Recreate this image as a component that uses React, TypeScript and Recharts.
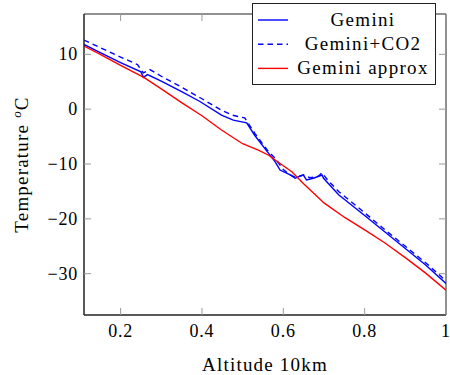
import { LineChart, Line, XAxis, YAxis, Legend, ReferenceArea } from "recharts";

// altitude in units of 10 km, temperature in °C
const geminiAlt = [0.11, 0.15, 0.2, 0.25, 0.256, 0.266, 0.3, 0.35, 0.395, 0.448, 0.477, 0.51, 0.53, 0.56, 0.58, 0.592, 0.617, 0.629, 0.649, 0.657, 0.674, 0.695, 0.699, 0.736, 0.8, 0.85, 0.9, 0.95, 1.0];
const geminiTemp = [11.8, 10.3, 8.5, 6.8, 5.8, 6.3, 5.1, 3.2, 1.4, -1.1, -2.0, -2.5, -4.8, -7.7, -9.6, -11.1, -12.0, -12.6, -12.0, -12.9, -12.6, -12.0, -12.6, -15.6, -19.4, -22.4, -25.4, -28.4, -31.8];

const co2Alt = [0.11, 0.15, 0.2, 0.242, 0.256, 0.272, 0.3, 0.35, 0.4, 0.448, 0.475, 0.505, 0.53, 0.56, 0.58, 0.6, 0.617, 0.63, 0.65, 0.665, 0.687, 0.695, 0.71, 0.736, 0.8, 0.85, 0.9, 0.95, 1.0];
const co2Temp = [12.6, 11.2, 9.5, 8.1, 6.6, 7.2, 6.0, 4.0, 1.9, -0.2, -1.1, -1.6, -4.4, -7.4, -9.0, -11.0, -12.0, -12.4, -12.0, -12.5, -12.2, -11.6, -13.0, -15.0, -18.9, -22.0, -25.0, -28.0, -31.3];

const approxAlt = [0.11, 0.15, 0.2, 0.257, 0.3, 0.35, 0.4, 0.448, 0.5, 0.54, 0.564, 0.592, 0.621, 0.65, 0.7, 0.75, 0.806, 0.85, 0.904, 0.95, 1.0];
const approxTemp = [11.5, 10.0, 8.0, 5.8, 3.7, 1.2, -1.2, -3.8, -6.3, -7.5, -8.4, -9.9, -11.4, -13.6, -17.1, -19.7, -22.3, -24.4, -27.3, -29.9, -33.0];

const xTicks = [0.2, 0.4, 0.6, 0.8, 1];
const yTicks = [-30, -20, -10, 0, 10];
const xDomain = [0.11, 1];
const yDomain = [-37.53, 17.35];

const toPoints = (alt: number[], temp: number[]) => alt.map((a, i) => ({ alt: a, temp: temp[i] }));

const series = [
  { name: "Gemini", data: toPoints(geminiAlt, geminiTemp), color: "#0000ff", dash: undefined as string | undefined },
  { name: "Gemini+CO2", data: toPoints(co2Alt, co2Temp), color: "#0000ff", dash: "5.5 4" },
  { name: "Gemini approx", data: toPoints(approxAlt, approxTemp), color: "#ff0000", dash: undefined },
];

const W = 450;
const H = 375;
const MARGIN = { top: 14, right: 4, bottom: 0, left: 0 };
const FONT = "'Liberation Serif', 'Times New Roman', serif";
const TICK_LEN = 7;
const TICK_COLOR = "#999";
const FRAME = "#222";

const fmt = (v: number) => (v < 0 ? "\u2212" + Math.abs(v) : String(v));

// pgfplots-style ticks: pointing inward on both opposite sides of the box
const BottomTick = ({ x, y, payload }: any) => (
  <g>
    <line x1={x} x2={x} y1={y} y2={y - TICK_LEN} stroke={TICK_COLOR} />
    <line x1={x} x2={x} y1={MARGIN.top} y2={MARGIN.top + TICK_LEN} stroke={TICK_COLOR} />
    <text x={x} y={y + 22} textAnchor="middle" fontFamily={FONT} fontSize={18} letterSpacing={0.8} fill="#000">
      {fmt(payload.value)}
    </text>
  </g>
);

const LeftTick = ({ x, y, payload }: any) => (
  <g>
    <line x1={x} x2={x + TICK_LEN} y1={y} y2={y} stroke={TICK_COLOR} />
    <line x1={W - MARGIN.right} x2={W - MARGIN.right - TICK_LEN} y1={y} y2={y} stroke={TICK_COLOR} />
    <text x={x - 6} y={y + 6} textAnchor="end" fontFamily={FONT} fontSize={18} letterSpacing={0.8} fill="#000">
      {fmt(payload.value)}
    </text>
  </g>
);

const XLabel = ({ viewBox }: any) => {
  const vb = viewBox ?? { x: 84, y: 315, width: 362, height: 60 };
  return (
    <text x={vb.x + vb.width / 2} y={vb.y + 56} textAnchor="middle" fontFamily={FONT} fontSize={19} letterSpacing={1.2} fill="#000">
      Altitude 10km
    </text>
  );
};

const YLabel = ({ viewBox }: any) => {
  const vb = viewBox ?? { x: 0, y: 14, width: 84, height: 301 };
  const cx = vb.x + 28;
  const cy = vb.y + vb.height / 2;
  return (
    <text x={cx} y={cy} transform={`rotate(-90 ${cx} ${cy})`} textAnchor="middle" fontFamily={FONT} fontSize={19} letterSpacing={1.2} fill="#000">
      Temperature{" "}
      <tspan fontStyle="italic" fontSize={13} dy={-7}>o</tspan>
      <tspan dy={7}>C</tspan>
    </text>
  );
};

const LegendBox = () => (
  <div style={{ border: `1px solid ${FRAME}`, background: "#fff", width: 182, height: 80 }}>
    <svg width={182} height={80} style={{ display: "block" }}>
      {series.map((s, i) => (
        <g key={s.name}>
          <line x1={5} x2={35} y1={16 + i * 24.2} y2={16 + i * 24.2} stroke={s.color} strokeWidth={1.4} strokeDasharray={s.dash} />
          <text x={110} y={21.5 + i * 24} textAnchor="middle" fontFamily={FONT} fontSize={19} letterSpacing={1.3} fill="#000">
            {s.name}
          </text>
        </g>
      ))}
    </svg>
  </div>
);

export default function App() {
  return (
    <div style={{ position: "absolute", left: 0, top: 0, background: "#fff" }}>
      <LineChart width={W} height={H} margin={MARGIN}>
        <XAxis
          dataKey="alt"
          type="number"
          domain={xDomain}
          allowDataOverflow
          ticks={xTicks}
          interval={0}
          tickSize={0}
          tickMargin={0}
          tickLine={false}
          axisLine={{ stroke: FRAME }}
          height={60}
          tick={BottomTick}
          label={XLabel}
        />
        <YAxis
          type="number"
          domain={yDomain}
          allowDataOverflow
          ticks={yTicks}
          interval={0}
          tickSize={0}
          tickMargin={0}
          tickLine={false}
          axisLine={{ stroke: FRAME }}
          width={84}
          tick={LeftTick}
          label={YLabel}
        />
        <ReferenceArea
          x1={xDomain[0]}
          x2={xDomain[1]}
          y1={yDomain[0]}
          y2={yDomain[1]}
          fill="none"
          fillOpacity={0}
          stroke={FRAME}
          strokeWidth={1}
        />
        {series.map((s) => (
          <Line
            key={s.name}
            data={s.data}
            dataKey="temp"
            name={s.name}
            type="linear"
            stroke={s.color}
            strokeWidth={1.4}
            strokeDasharray={s.dash}
            dot={false}
            activeDot={false}
            isAnimationActive={false}
          />
        ))}
        <Legend
          layout="horizontal"
          verticalAlign="middle"
          align="center"
          content={LegendBox}
          wrapperStyle={{ left: 252, top: 3, width: "auto", height: "auto" }}
        />
      </LineChart>
    </div>
  );
}
